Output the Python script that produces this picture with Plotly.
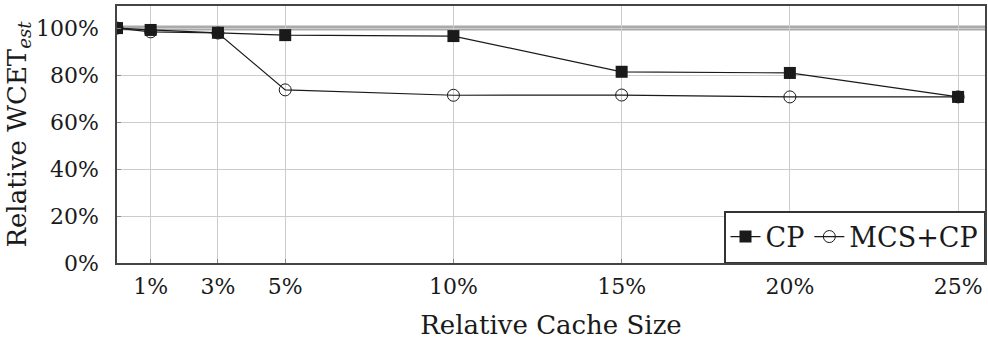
import plotly.graph_objects as go

# Relative cache size (%) and relative WCET estimate (%)
cache_size = [0, 1, 3, 5, 10, 15, 20, 25]
cp = [100, 99.2, 98.0, 97.0, 96.6, 81.4, 80.9, 70.7]
mcs_cp = [100, 98.4, 97.9, 73.7, 71.4, 71.5, 70.7, 70.7]
baseline = 100

x_ticks = [1, 3, 5, 10, 15, 20, 25]
y_ticks = [0, 20, 40, 60, 80, 100]

FONT = "DejaVu Serif"
TICK_SIZE = 22
TITLE_SIZE = 26
LEGEND_SIZE = 27
INK = "#1a1a1a"

fig = go.Figure()

fig.add_hline(y=baseline, line=dict(color="#aaaaaa", width=5), layer="below")

fig.add_trace(go.Scatter(
    x=cache_size, y=cp, name="CP", mode="lines+markers",
    line=dict(color=INK, width=1.2),
    marker=dict(symbol="square", size=12, color=INK, line=dict(width=0)),
))
fig.add_trace(go.Scatter(
    x=cache_size, y=mcs_cp, name="MCS+CP", mode="lines+markers",
    line=dict(color=INK, width=1.2),
    marker=dict(symbol="circle-open", size=12, color=INK, line=dict(width=1)),
))

fig.update_layout(
    width=988, height=340,
    margin=dict(l=117, r=1, t=6, b=77),
    paper_bgcolor="white", plot_bgcolor="white",
    font=dict(family=FONT, size=TICK_SIZE, color=INK),
    showlegend=True,
    legend=dict(
        orientation="h", x=1, y=0, xanchor="right", yanchor="bottom",
        bordercolor="#333333", borderwidth=1.5, bgcolor="white",
        font=dict(family=FONT, size=LEGEND_SIZE, color=INK),
        itemwidth=30, tracegroupgap=0,
    ),
)

fig.update_xaxes(
    range=[0, 25.8], tickvals=x_ticks, ticktext=[f"{v}%" for v in x_ticks],
    tickfont=dict(family=FONT, size=TICK_SIZE),
    showgrid=True, gridcolor="#cccccc", gridwidth=1,
    showline=True, linecolor="#444444", linewidth=1.5, mirror=True,
    ticks="inside", ticklen=4, tickcolor="#888888",
    ticklabelstandoff=3,
    zeroline=False,
    title=dict(text="Relative Cache Size", font=dict(family=FONT, size=TITLE_SIZE), standoff=18),
)
fig.update_yaxes(
    range=[0, 109.4], tickvals=y_ticks, ticktext=[f"{v}%" for v in y_ticks],
    tickfont=dict(family=FONT, size=TICK_SIZE),
    showgrid=True, gridcolor="#cccccc", gridwidth=1,
    showline=True, linecolor="#444444", linewidth=1.5, mirror=True,
    ticks="inside", ticklen=4, tickcolor="#888888",
    ticklabelstandoff=12,
    zeroline=False,
    title=dict(text="Relative WCET<sub><i>est</i></sub>", font=dict(family=FONT, size=TITLE_SIZE), standoff=2),
)

fig.write_html("out.html")
